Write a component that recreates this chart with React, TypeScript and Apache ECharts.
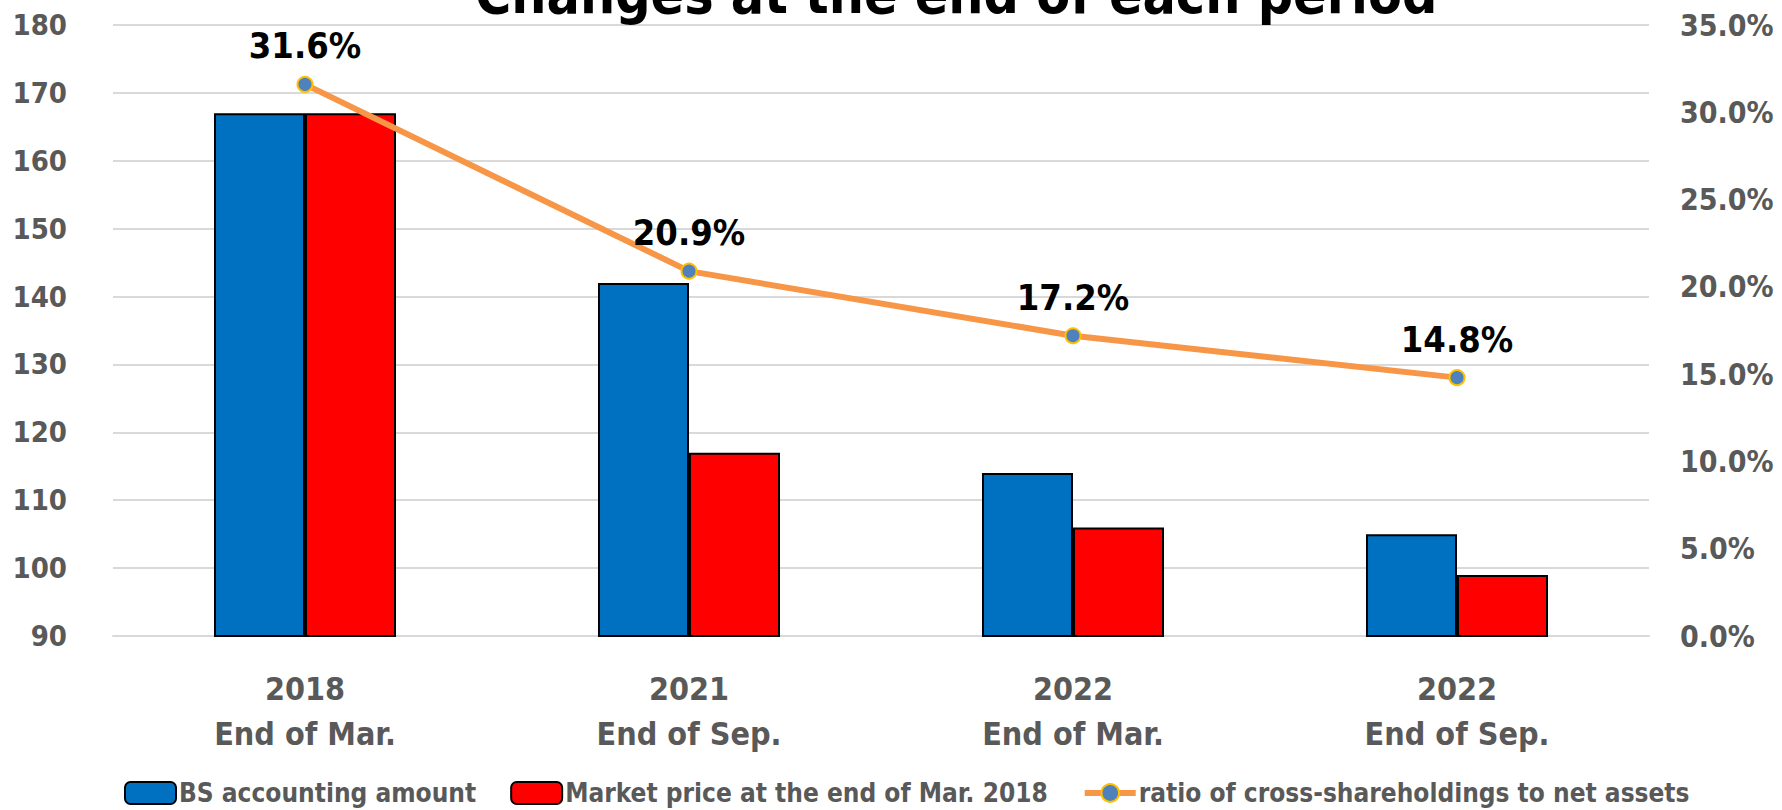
import React, { useEffect, useRef } from "react";
import * as echarts from "echarts";

const categories = ["2018\nEnd of Mar.", "2021\nEnd of Sep.", "2022\nEnd of Mar.", "2022\nEnd of Sep."];
const bsAmount = [167, 142, 114, 105];
const marketPrice = [167, 117, 106, 99];
const ratio = [31.6, 20.9, 17.2, 14.8];
const leftTicks = { min: 90, max: 180, interval: 10 };
const rightTicks = { min: 0, max: 35, interval: 5 };

const FONT = "'Liberation Sans Narrow', 'DejaVu Sans Condensed', 'Roboto', sans-serif";

export default function App() {
  const ref = useRef<HTMLDivElement>(null);
  useEffect(() => {
    document.body.style.margin = "0";
    const chart = echarts.init(ref.current!, null, { renderer: "svg" });
    chart.setOption({
      animation: false,
      backgroundColor: "#ffffff",
      textStyle: { fontFamily: FONT },
      title: {
        text: "Changes at the end of each period",
        left: 470,
        top: -39,
        textStyle: { fontFamily: FONT, fontSize: 55, fontWeight: "bold", color: "#000000" },
      },
      grid: { left: 113, right: 133, top: 25, bottom: 174, containLabel: false },
      legend: {
        bottom: -1,
        left: 119,
        itemWidth: 51,
        itemHeight: 22,
        itemGap: 34,
        textStyle: { fontFamily: FONT, fontSize: 26, fontWeight: "bold", color: "#595959", padding: [0, 0, 0, -2] },
        data: [
          { name: "BS accounting amount", itemStyle: { borderColor: "#000", borderWidth: 2 } },
          { name: "Market price at the end of Mar. 2018", itemStyle: { borderColor: "#000", borderWidth: 2 } },
          { name: "ratio of cross-shareholdings to net assets", lineStyle: { width: 6, color: "#F79646" } },
        ],
      },
      xAxis: {
        type: "category",
        data: categories,
        axisLine: { show: true, lineStyle: { color: "#D9D9D9", width: 2 } },
        axisTick: { show: false },
        axisLabel: {
          fontFamily: FONT,
          fontSize: 32,
          fontWeight: "bold",
          color: "#595959",
          lineHeight: 45,
          margin: 30,
        },
      },
      yAxis: [
        {
          type: "value",
          min: leftTicks.min,
          max: leftTicks.max,
          interval: leftTicks.interval,
          axisLine: { show: false },
          axisTick: { show: false },
          splitLine: { lineStyle: { color: "#D9D9D9", width: 2 } },
          axisLabel: { fontFamily: FONT, fontSize: 29, fontWeight: "bold", color: "#595959", margin: 46 },
        },
        {
          type: "value",
          min: rightTicks.min,
          max: rightTicks.max,
          interval: rightTicks.interval,
          position: "right",
          axisLine: { show: false },
          axisTick: { show: false },
          splitLine: { show: false },
          axisLabel: {
            fontFamily: FONT,
            fontSize: 30,
            fontWeight: "bold",
            color: "#595959",
            margin: 31,
            formatter: (v: number) => v.toFixed(1) + "%",
          },
        },
      ],
      series: [
        {
          name: "BS accounting amount",
          type: "bar",
          data: bsAmount,
          barGap: "0%",
          barCategoryGap: "52.6%",
          itemStyle: { color: "#0070C0", borderColor: "#000000", borderWidth: 2 },
        },
        {
          name: "Market price at the end of Mar. 2018",
          type: "bar",
          data: marketPrice,
          itemStyle: { color: "#FF0000", borderColor: "#000000", borderWidth: 2 },
        },
        {
          name: "ratio of cross-shareholdings to net assets",
          type: "line",
          yAxisIndex: 1,
          data: ratio,
          symbol: "circle",
          symbolSize: 15,
          lineStyle: { color: "#F79646", width: 6 },
          itemStyle: { color: "#4F81BD", borderColor: "#FFC000", borderWidth: 2 },
          label: {
            show: true,
            position: "top",
            distance: 12,
            fontFamily: FONT,
            fontSize: 36,
            fontWeight: "bold",
            color: "#000000",
            formatter: (p: any) => p.value.toFixed(1) + "%",
          },
        },
      ],
    });
    return () => chart.dispose();
  }, []);
  return <div ref={ref} style={{ width: 1782, height: 810 }} />;
}
